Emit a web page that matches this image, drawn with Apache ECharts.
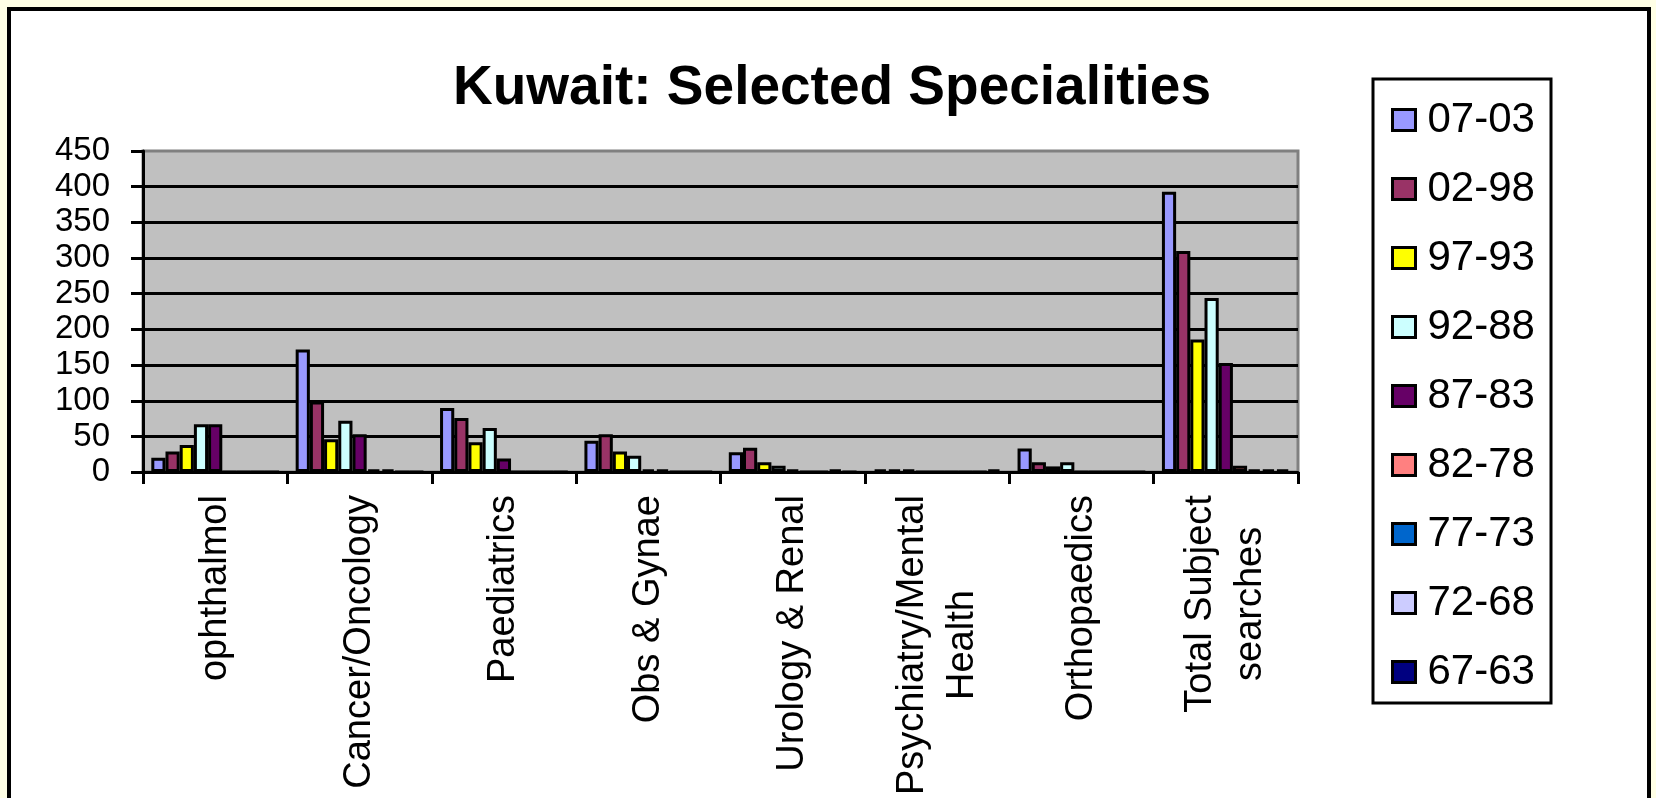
<!DOCTYPE html>
<html>
<head>
<meta charset="utf-8">
<script src="https://cdn.jsdelivr.net/npm/echarts@6/dist/echarts.min.js"></script>
<style>
  html, body { margin: 0; padding: 0; background: #ffffe6; }
  #chart { width: 1656px; height: 798px; }
</style>
</head>
<body>
<div id="chart"></div>
<script>
  var categories = [
    "ophthalmol",
    "Cancer/Oncology",
    "Paediatrics",
    "Obs & Gynae",
    "Urology & Renal",
    "Psychiatry/Mental\nHealth",
    "Orthopaedics",
    "Total Subject\nsearches"
  ];
  var periods = ["07-03", "02-98", "97-93", "92-88", "87-83", "82-78", "77-73", "72-68", "67-63"];
  var colors = ["#9999ff", "#993366", "#ffff00", "#ccffff", "#660066", "#ff8080", "#0066cc", "#ccccff", "#000080"];

  var s0703 = [20, 172, 90, 44, 28, 4, 33, 393];
  var s0298 = [29, 99, 76, 53, 34, 4, 14, 310];
  var s9793 = [38, 46, 42, 29, 14, 4, 8, 186];
  var s9288 = [67, 72, 62, 23, 9, 0, 14, 244];
  var s8783 = [67, 53, 19, 4, 4, 0, 0, 153];
  var s8278 = [0, 4, 0, 4, 0, 0, 0, 9];
  var s7773 = [0, 4, 0, 0, 0, 0, 0, 4];
  var s7268 = [0, 0, 0, 0, 4, 0, 0, 4];
  var s6763 = [0, 0, 0, 0, 0, 4, 0, 4];

  var yTicks = { min: 0, max: 450, interval: 50 };

  var values = [s0703, s0298, s9793, s9288, s8783, s8278, s7773, s7268, s6763];
  var font = "'Liberation Sans', Arial, sans-serif";

  var chart = echarts.init(document.getElementById("chart"));

  var series = periods.map(function (name, i) {
    return {
      name: name,
      type: "bar",
      data: values[i],
      barGap: "0%",
      barCategoryGap: "11.5%",
      itemStyle: { color: colors[i], borderColor: "#000", borderWidth: 3 },
      animation: false
    };
  });

  chart.setOption({
    backgroundColor: "#ffffe6",
    animation: false,
    graphic: [
      {
        type: "rect",
        z: -10,
        shape: { x: 9, y: 9, width: 1640, height: 840 },
        style: { fill: "#ffffff", stroke: "#000", lineWidth: 4 }
      },
      {
        type: "rect",
        z: -5,
        shape: { x: 1373, y: 79, width: 178, height: 624 },
        style: { fill: "#ffffff", stroke: "#000", lineWidth: 3 }
      }
    ],
    title: {
      text: "Kuwait: Selected Specialities",
      left: 827,
      top: 56,
      textAlign: "center",
      textStyle: { fontFamily: font, fontSize: 55, fontWeight: "bold", color: "#000" }
    },
    legend: {
      orient: "vertical",
      left: 1391,
      top: 99,
      padding: 0,
      itemGap: 27,
      itemWidth: 23,
      itemHeight: 21,
      icon: "rect",
      data: periods,
      itemStyle: { borderColor: "#000", borderWidth: 3 },
      textStyle: { fontFamily: font, fontSize: 42, lineHeight: 42, color: "#000", padding: [0, 0, 0, 7] }
    },
    grid: {
      left: 143,
      right: 358,
      top: 151,
      bottom: 323,
      show: true,
      backgroundColor: "#c0c0c0",
      borderColor: "#808080",
      borderWidth: 3
    },
    xAxis: {
      type: "category",
      data: categories,
      axisLine: { lineStyle: { color: "#000", width: 3 } },
      axisTick: { show: true, length: 12, lineStyle: { color: "#000", width: 3 } },
      axisLabel: {
        rotate: 90,
        margin: 23,
        interval: 0,
        formatter: function (v) {
          return v.split("\n").map(function (l) { return "{c|" + l + "}"; }).join("\n");
        },
        rich: {
          c: { align: "center", fontFamily: font, fontSize: 38, lineHeight: 50, color: "#000" }
        }
      }
    },
    yAxis: {
      type: "value",
      min: yTicks.min,
      max: yTicks.max,
      interval: yTicks.interval,
      axisLine: { show: true, lineStyle: { color: "#000", width: 3 } },
      axisTick: { show: true, length: 12, lineStyle: { color: "#000", width: 3 } },
      axisLabel: { margin: 33, fontFamily: font, fontSize: 33, color: "#000" },
      splitLine: { show: true, showMaxLine: false, lineStyle: { color: "#000", width: 3 } }
    },
    series: series
  });
</script>
</body>
</html>
